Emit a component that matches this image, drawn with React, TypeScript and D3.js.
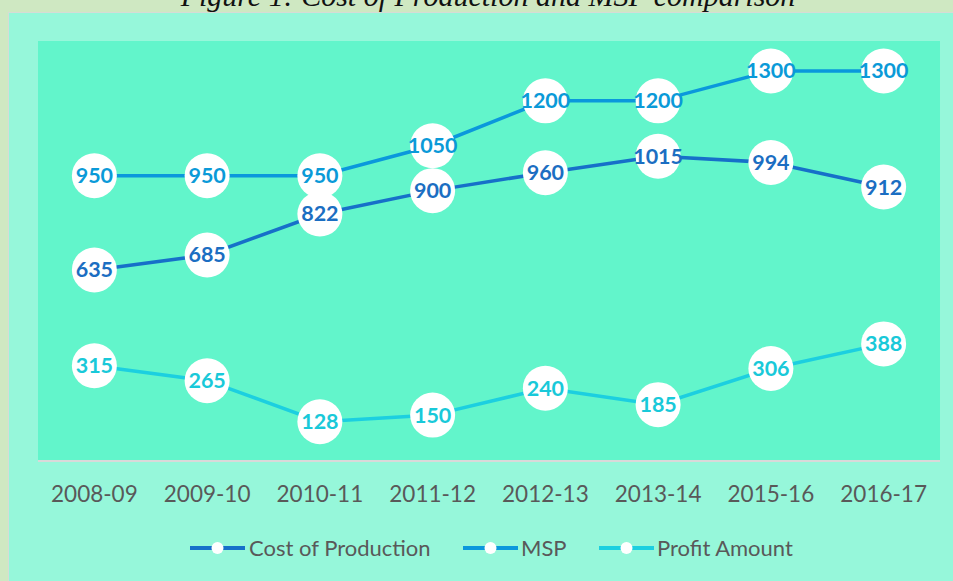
import React from "react";
import * as d3 from "d3";

const categories = ["2008-09", "2009-10", "2010-11", "2011-12", "2012-13", "2013-14", "2015-16", "2016-17"];
const costOfProduction = [635, 685, 822, 900, 960, 1015, 994, 912];
const msp = [950, 950, 950, 1050, 1200, 1200, 1300, 1300];
const profitAmount = [315, 265, 128, 150, 240, 185, 306, 388];
const seriesNames = ["Cost of Production", "MSP", "Profit Amount"];

const W = 953, H = 581;
const plot = { x0: 38, x1: 940, y0: 41, y1: 460 };

const series = [
  { name: seriesNames[0], values: costOfProduction, line: "#1670c9", text: "#1b6ec2" },
  { name: seriesNames[1], values: msp, line: "#0a98dc", text: "#0a9ad8" },
  { name: seriesNames[2], values: profitAmount, line: "#1ccfe0", text: "#19c9d9" },
];

export default function App() {
  const x = d3.scaleBand<string>().domain(categories).range([plot.x0, plot.x1]);
  const y = d3.scaleLinear().domain([0, 1400]).range([plot.y1, plot.y0]);
  const cx = (c: string) => (x(c) as number) + x.bandwidth() / 2;
  const line = d3.line<number>().x((_, i) => cx(categories[i])).y((v) => y(v));
  const font = "Lato, 'Open Sans', sans-serif";
  const drawOrder = [1, 0, 2];

  const legendItems = [
    { s: series[0], x: 190, tx: 249 },
    { s: series[1], x: 463, tx: 521 },
    { s: series[2], x: 599, tx: 657 },
  ];

  return (
    <svg width={W} height={H} style={{ position: "absolute", left: 0, top: 0 }}>
      <rect x={0} y={0} width={W} height={H} fill="#cfe8c2" />
      <rect x={8} y={12} width={W - 8} height={H - 12} fill="#d6dcd6" />
      <rect x={9} y={13} width={W - 9} height={H - 13} fill="#96f7da" />
      <text x={488} y={6} textAnchor="middle" fontFamily="'Liberation Serif', serif" fontStyle="italic" fontSize={30} fill="#111">
        Figure 1: Cost of Production  and MSP  comparison
      </text>
      <rect x={plot.x0} y={plot.y0} width={plot.x1 - plot.x0} height={plot.y1 - plot.y0} fill="#62f5cb" />
      <line x1={plot.x0} x2={plot.x1} y1={plot.y1 + 1} y2={plot.y1 + 1} stroke="#d9d9d9" strokeWidth={2} />
      {categories.map((c) => (
        <text key={c} x={cx(c)} y={502} textAnchor="middle" fontFamily={font} fontSize={22.5} fill="#595959">
          {c}
        </text>
      ))}
      {drawOrder.map((si) => {
        const s = series[si];
        return (
          <g key={s.name}>
            <path d={line(s.values) || ""} fill="none" stroke={s.line} strokeWidth={3.5} />
            {s.values.map((v, i) => (
              <circle key={i} cx={cx(categories[i])} cy={y(v)} r={22.5} fill="#fff" />
            ))}
          </g>
        );
      })}
      {drawOrder.map((si) => {
        const s = series[si];
        return (
          <g key={s.name + "-l"}>
            {s.values.map((v, i) => (
              <text key={i} x={cx(categories[i])} y={y(v) + 7.5} textAnchor="middle" fontFamily={font} fontWeight="bold" fontSize={21.5} fill={s.text}>
                {v}
              </text>
            ))}
          </g>
        );
      })}
      {legendItems.map(({ s, x: lx, tx }) => (
        <g key={s.name + "-leg"}>
          <line x1={lx} x2={lx + 55} y1={548} y2={548} stroke={s.line} strokeWidth={4} />
          <circle cx={lx + 27.5} cy={548} r={6} fill="#fff" />
          <text x={tx} y={556} fontFamily={font} fontSize={22} fill="#595959">
            {s.name}
          </text>
        </g>
      ))}
    </svg>
  );
}
